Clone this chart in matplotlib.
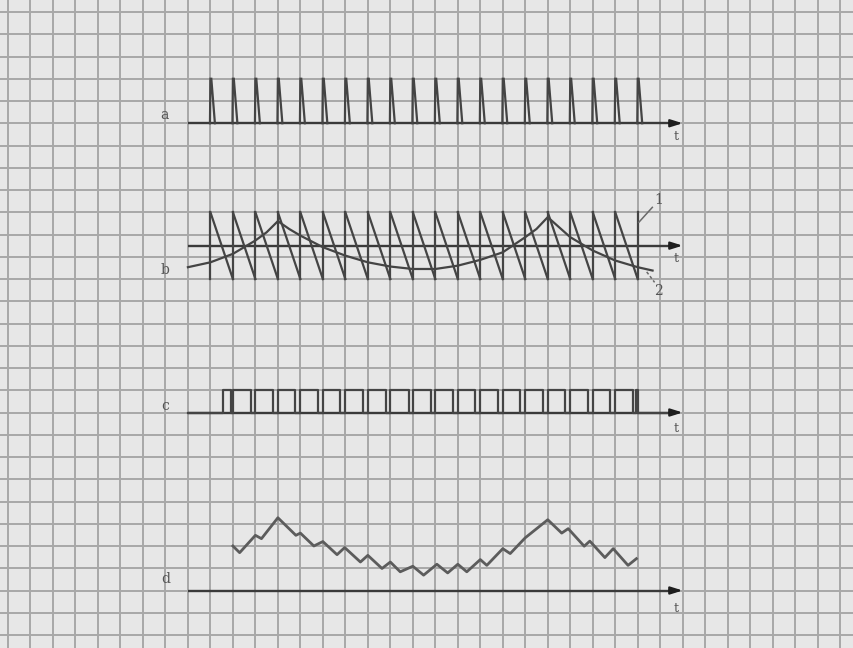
import matplotlib
matplotlib.use('Agg')
import matplotlib.pyplot as plt

# ---------------- data (grid units: columns left->right, rows top->bottom) ----
grid_cols = list(range(0, 38))
grid_rows = list(range(0, 29))

axis_start = 8.0
axis_end = 30.0

# a: clock pulses
a_pulse_cols = [9, 10, 11, 12, 13, 14, 15, 16, 17, 18, 19, 20, 21, 22, 23, 24, 25, 26, 27, 28]
a_base = 5.0
a_top = 3.0

# b: sawtooth (1) and modulating signal (2)
saw_cols = [9, 10, 11, 12, 13, 14, 15, 16, 17, 18, 19, 20, 21, 22, 23, 24, 25, 26, 27, 28]
saw_top = 9.0
saw_bot = 12.0
b_axis = 10.5
mod_x = [8.0, 9.0, 10.0, 11.0, 11.5, 12.0, 12.5, 13.0, 14.0, 15.0, 16.0, 17.0, 18.0, 19.0,
         20.0, 21.0, 22.0, 23.0, 23.5, 24.0, 24.5, 25.0, 26.0, 27.0, 28.0, 28.66]
mod_y = [11.47, 11.25, 10.87, 10.27, 9.9, 9.4, 9.75, 10.05, 10.57, 10.95, 11.25, 11.44, 11.55, 11.55,
         11.4, 11.14, 10.8, 10.12, 9.75, 9.22, 9.67, 10.12, 10.72, 11.17, 11.47, 11.62]

# c: PWM pulses (rise / fall columns)
c_rise = [9.55, 10.0, 11.0, 12.0, 13.0, 14.0, 15.0, 16.0, 17.0, 18.0, 19.0, 20.0, 21.0, 22.0,
          23.0, 24.0, 25.0, 26.0, 27.0, 27.93]
c_fall = [9.9, 10.8, 11.8, 12.75, 13.8, 14.75, 15.8, 16.8, 17.85, 18.82, 19.8, 20.75, 21.8, 22.75,
          23.8, 24.75, 25.8, 26.75, 27.8, 28.0]
c_low = 18.0
c_high = 17.0

# d: demodulated output
d_x = [10.0, 10.3, 11.0, 11.27, 12.0, 12.8, 13.0, 13.6, 14.0, 14.63, 14.97, 15.67, 16.0, 16.63,
       17.0, 17.44, 18.0, 18.48, 19.07, 19.55, 20.0, 20.4, 21.0, 21.29, 22.0, 22.33, 23.0,
       24.0, 24.62, 24.91, 25.62, 25.87, 26.54, 26.91, 27.57, 27.94]
d_y = [24.0, 24.3, 23.52, 23.67, 22.73, 23.52, 23.42, 24.0, 23.8, 24.39, 24.07, 24.72, 24.42, 25.01,
       24.72, 25.16, 24.91, 25.31, 24.82, 25.21, 24.82, 25.16, 24.61, 24.87, 24.12, 24.34, 23.63,
       22.82, 23.42, 23.22, 24.01, 23.78, 24.52, 24.12, 24.87, 24.57]
d_axis = 26.0

# labels
row_labels = ['a', 'b', 'c', 'd']
row_label_pos = [(6.95, 4.65), (7.0, 11.6), (7.0, 17.7), (7.0, 25.5)]
axis_rows = [a_base, b_axis, c_low, d_axis]
t_label_pos = [(29.7, 5.6), (29.7, 11.1), (29.7, 18.7), (29.7, 26.8)]

# ---------------- drawing -------------------------------------------------------
W, H = 854, 648
x0_px, dx_px = 8.0, 22.49
y0_px, dy_px = 12.0, 22.25

fig = plt.figure(figsize=(W / 100, H / 100), dpi=100)
fig.patch.set_facecolor('#e7e7e7')
ax = fig.add_axes([0, 0, 1, 1])
ax.set_facecolor('#e7e7e7')
ax.set_xlim(-x0_px / dx_px, (W - x0_px) / dx_px)
ax.set_ylim((H - y0_px) / dy_px, -y0_px / dy_px)
ax.axis('off')

grid_c = '#a8a8a8'
for c in grid_cols:
    ax.axvline(c, color=grid_c, lw=1.4, zorder=1)
for r in grid_rows:
    ax.axhline(r, color=grid_c, lw=1.4, zorder=1)

wave_c = '#444444'
lw = 1.6

# axes with arrows
for r in axis_rows:
    ax.plot([axis_start, axis_end - 0.3], [r, r], color='#3a3a3a', lw=1.7, zorder=3,
            solid_capstyle='butt')
    ax.annotate('', xy=(axis_end, r), xytext=(axis_end - 0.6, r),
                arrowprops=dict(arrowstyle='-|>,head_length=0.7,head_width=0.22',
                                color='#1e1e1e', lw=1.6, shrinkA=0, shrinkB=0), zorder=4)

# a
for p in a_pulse_cols:
    ax.plot([p - 0.02, p, p + 0.04, p + 0.2], [a_base, a_top, a_top, a_base],
            color=wave_c, lw=lw, zorder=3, solid_joinstyle='miter')

# b sawtooth
for i in range(len(saw_cols) - 1):
    ax.plot([saw_cols[i], saw_cols[i + 1]], [saw_top, saw_bot], color=wave_c, lw=lw, zorder=3)
for s in saw_cols:
    ax.plot([s, s], [saw_bot, saw_top], color=wave_c, lw=lw, zorder=3)
ax.plot(mod_x, mod_y, color=wave_c, lw=lw, zorder=3)

# labels 1 and 2
ax.plot([28.05, 28.65], [9.45, 8.78], color='#6a6a6a', lw=1.1, zorder=3)
ax.text(28.95, 8.45, '1', fontsize=10, color='#555555', family='DejaVu Serif',
        ha='center', va='center', zorder=5)
ax.plot([28.4, 28.75], [11.68, 12.15], color='#6a6a6a', lw=1.1, ls=(0, (2, 1.5)), zorder=3)
ax.text(28.9, 12.55, '2', fontsize=10, color='#555555', family='DejaVu Serif',
        ha='center', va='center', zorder=5)

# c
cx = [axis_start]
cy = [c_low]
for r, f in zip(c_rise, c_fall):
    cx += [r, r, f, f]
    cy += [c_low, c_high, c_high, c_low]
cx.append(axis_end - 0.6)
cy.append(c_low)
ax.plot(cx, cy, color=wave_c, lw=lw, zorder=3)

# d
ax.plot(d_x, d_y, color='#5c5c5c', lw=2.0, zorder=3)

for lab, (x, y) in zip(row_labels, row_label_pos):
    ax.text(x, y, lab, fontsize=10, color='#555555', family='DejaVu Serif',
            ha='center', va='center', zorder=5)
for (x, y) in t_label_pos:
    ax.text(x, y, 't', fontsize=9, color='#555555', family='DejaVu Serif',
            ha='center', va='center', zorder=5)

fig.savefig('out.png', dpi=100, facecolor=fig.get_facecolor())
